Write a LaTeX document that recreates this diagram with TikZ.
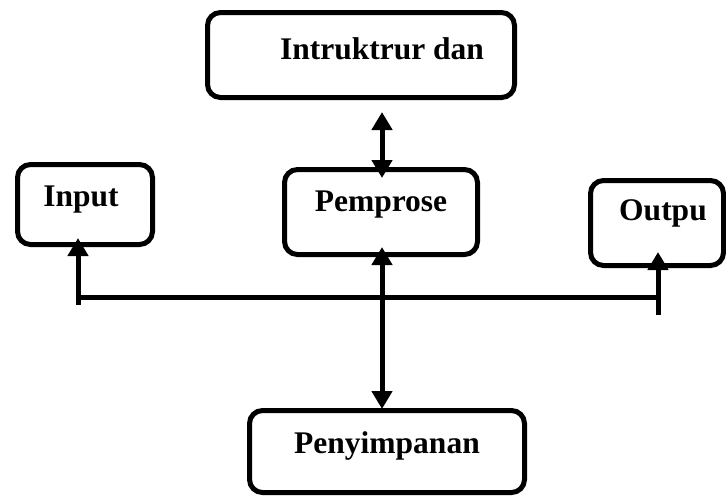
\documentclass[tikz,border=0pt]{standalone}
\usepackage{fontspec}
\setmainfont{Liberation Serif}
\usetikzlibrary{arrows.meta}
\begin{document}
\begin{tikzpicture}[x=1pt,y=-1pt,
  box/.style={draw=black,line width=5pt,rounded corners=13pt,inner sep=0pt},
  lbl/.style={font=\fontsize{31.5}{36}\selectfont\bfseries,inner sep=0pt},
  conn/.style={line width=5pt,black},
  tip/.style={-{Triangle[width=20pt,length=18pt]}},
  tips/.style={{Triangle[width=20pt,length=18pt]}-{Triangle[width=20pt,length=18pt]}}]
\useasboundingbox (0,0) rectangle (726,496);
% boxes (centerline dimensions)
\node[box,minimum width=307pt,minimum height=85pt] (top) at (361,55) {};
\node[box,minimum width=193pt,minimum height=85pt] (proc) at (381,212) {};
\node[box,minimum width=135pt,minimum height=80pt] (in) at (85,204.5) {};
\node[box,minimum width=133pt,minimum height=85pt] (out) at (657,223) {};
\node[box,minimum width=275pt,minimum height=82pt] (store) at (387,451.5) {};
% labels
\node[lbl] (topT) at (382,49) {Intruktrur dan};
\node[lbl] (procT) at (381,205) {Pemprose};
\node[lbl] (inT) at (81,200) {Input};
\node[lbl] (outT) at (663,213) {Outpu};
\node[lbl] (storeT) at (387,446) {Penyimpanan};
% connector end points
\coordinate (a1) at (382,112);
\coordinate (a2) at (382,178);
\coordinate (c1) at (382,247);
\coordinate (c2) at (382,409);
\coordinate (tIn) at (78,238);
\coordinate (bIn) at (78,305);
\coordinate (tOut) at (658,252);
\coordinate (bOut) at (658,315);
\coordinate (hL) at (78,297);
\coordinate (hR) at (658,297);
% connectors
\draw[conn,tips] (a1) -- (a2);
\draw[conn,tips] (c1) -- (c2);
\draw[conn,tip] (bIn) -- (tIn);
\draw[conn,tip] (bOut) -- (tOut);
\draw[conn] (hL) -- (hR);
\end{tikzpicture}
\end{document}
